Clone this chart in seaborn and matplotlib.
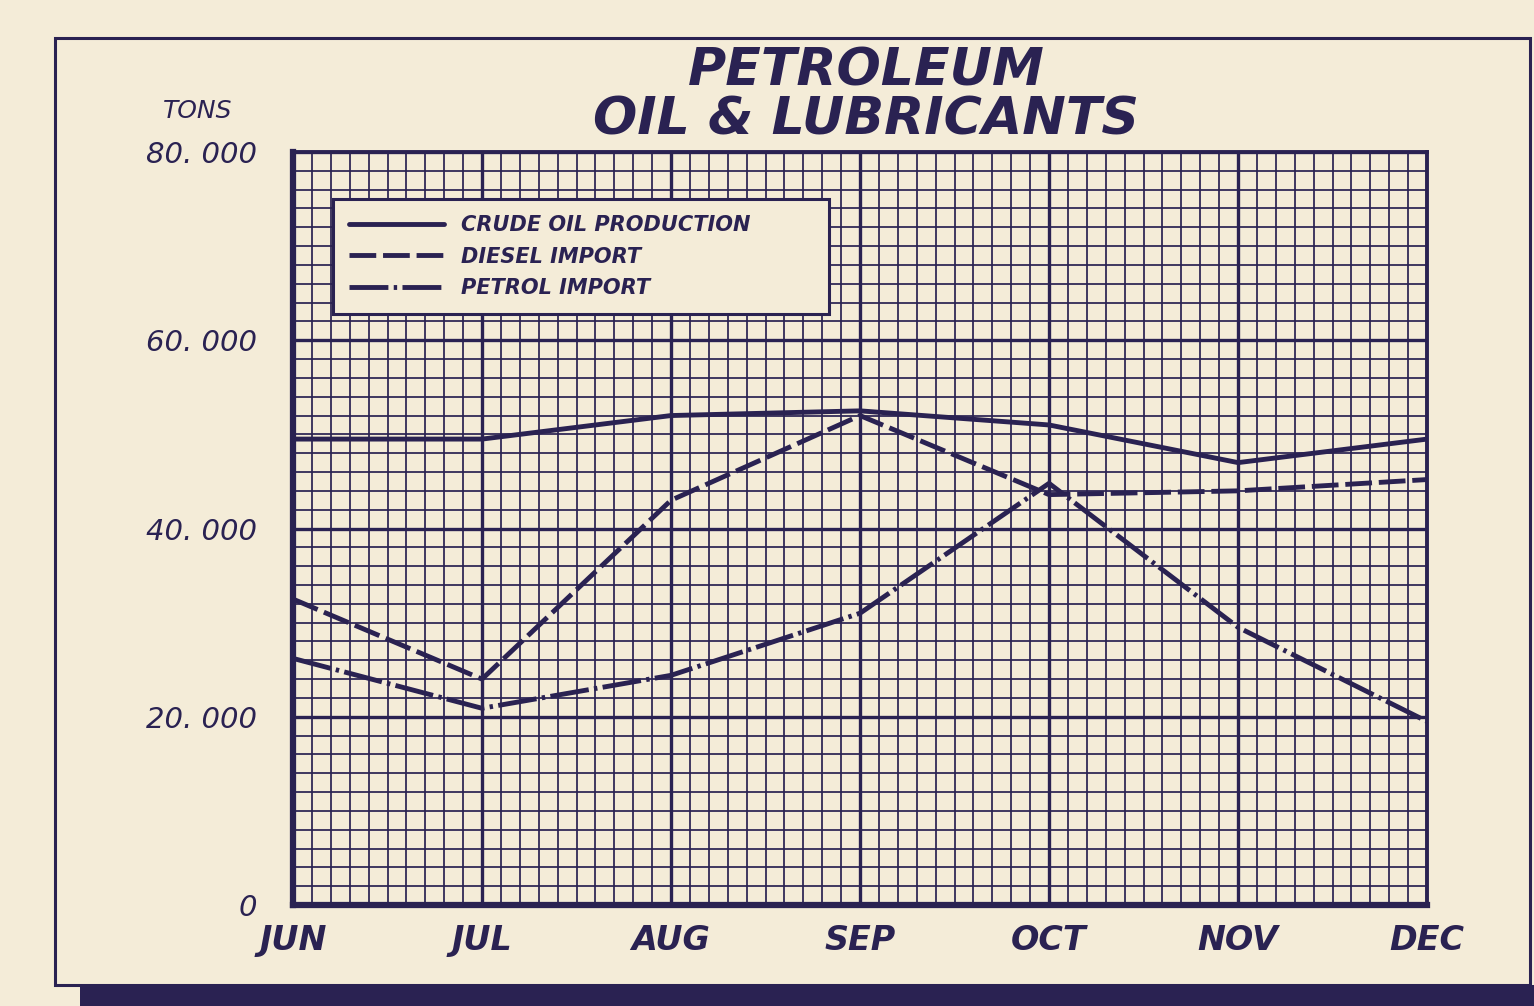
import pandas as pd
import matplotlib.pyplot as plt
import seaborn as sns
from matplotlib.patches import Rectangle
from matplotlib.ticker import MultipleLocator

INK = "#2a2252"
PAPER = "#f4ecd8"

months = ["JUN", "JUL", "AUG", "SEP", "OCT", "NOV", "DEC"]
crude_oil = [49500, 49500, 52000, 52500, 51000, 47000, 49500]
diesel_import = [32500, 24000, 43000, 52000, 43600, 44000, 45200]
petrol_import = [26200, 20900, 24400, 31000, 44800, 29500, 19500]
series_names = ["CRUDE OIL PRODUCTION", "DIESEL IMPORT", "PETROL IMPORT"]
y_ticks = [0, 20000, 40000, 60000, 80000]
y_tick_labels = ["0", "20. 000", "40. 000", "60. 000", "80. 000"]

frames = []
for name, vals in zip(series_names, [crude_oil, diesel_import, petrol_import]):
    frames.append(pd.DataFrame({"month": range(len(months)), "tons": vals, "series": name}))
df = pd.concat(frames, ignore_index=True)

sns.set_style("white")
plt.rcParams["font.family"] = ["DejaVu Sans"]

fig = plt.figure(figsize=(15.34, 10.06), dpi=100, facecolor=PAPER)
ax = fig.add_axes([0.191, 0.1004, 0.7393, 0.7485])
ax.set_facecolor(PAPER)

# graph paper grid
ax.set_xlim(0, 6)
ax.set_ylim(0, 80000)
ax.xaxis.set_major_locator(MultipleLocator(1))
ax.xaxis.set_minor_locator(MultipleLocator(0.1))
ax.yaxis.set_major_locator(MultipleLocator(20000))
ax.yaxis.set_minor_locator(MultipleLocator(2000))
ax.grid(which="minor", color=INK, linewidth=1.25)
ax.grid(which="major", color=INK, linewidth=2.4)
ax.set_axisbelow(True)

sns.lineplot(
    data=df, x="month", y="tons", style="series",
    dashes={"CRUDE OIL PRODUCTION": "", "DIESEL IMPORT": (5.5, 1.4),
            "PETROL IMPORT": (8, 1.1, 0.7, 1.1)},
    color=INK, linewidth=3.5, ax=ax, legend=True,
)

for s in ax.spines.values():
    s.set_visible(True)
    s.set_color(INK)
    s.set_linewidth(2.8)
ax.spines["left"].set_linewidth(4.5)
ax.spines["bottom"].set_linewidth(4.5)

ax.set_xticks(range(len(months)))
ax.set_xticklabels(months, fontsize=24, fontweight="bold", fontstyle="italic", color=INK)
ax.set_yticks(y_ticks)
ax.set_yticklabels(y_tick_labels, fontsize=21, fontstyle="italic", color=INK)
ax.tick_params(axis="x", which="both", length=0, pad=14)
ax.tick_params(axis="y", which="both", length=0, pad=26)
ax.set_xlabel("")
ax.set_ylabel("")

leg = ax.legend(
    loc="upper left", bbox_to_anchor=(0.0353, 0.790, 0.4374, 0.147), mode="expand",
    borderaxespad=0, title=None,
    prop={"size": 15, "style": "italic", "weight": "bold"},
    handlelength=4.6, labelspacing=0.55, borderpad=0.75,
    fancybox=False, framealpha=1, facecolor=PAPER, edgecolor=INK,
)
leg.get_frame().set_linewidth(2.2)
for t in leg.get_texts():
    t.set_color(INK)

fig.text(0.5645, 0.929, "PETROLEUM", ha="center", va="center", fontsize=37.5,
         fontweight="bold", fontstyle="italic", color=INK)
fig.text(0.5645, 0.880, "OIL & LUBRICANTS", ha="center", va="center", fontsize=37.5,
         fontweight="bold", fontstyle="italic", color=INK)
fig.text(0.129, 0.890, "TONS", ha="center", va="center", fontsize=18,
         fontstyle="italic", color=INK)

# outer frame and dark band at the bottom
fig.add_artist(Rectangle((0.0359, 0.0209), 0.9616, 0.9414, transform=fig.transFigure,
                         fill=False, edgecolor=INK, linewidth=2.2))
fig.add_artist(Rectangle((0.052, 0.0), 0.948, 0.0209, transform=fig.transFigure,
                         facecolor=INK, edgecolor="none"))

fig.savefig("out.png", dpi=100, facecolor=PAPER)
